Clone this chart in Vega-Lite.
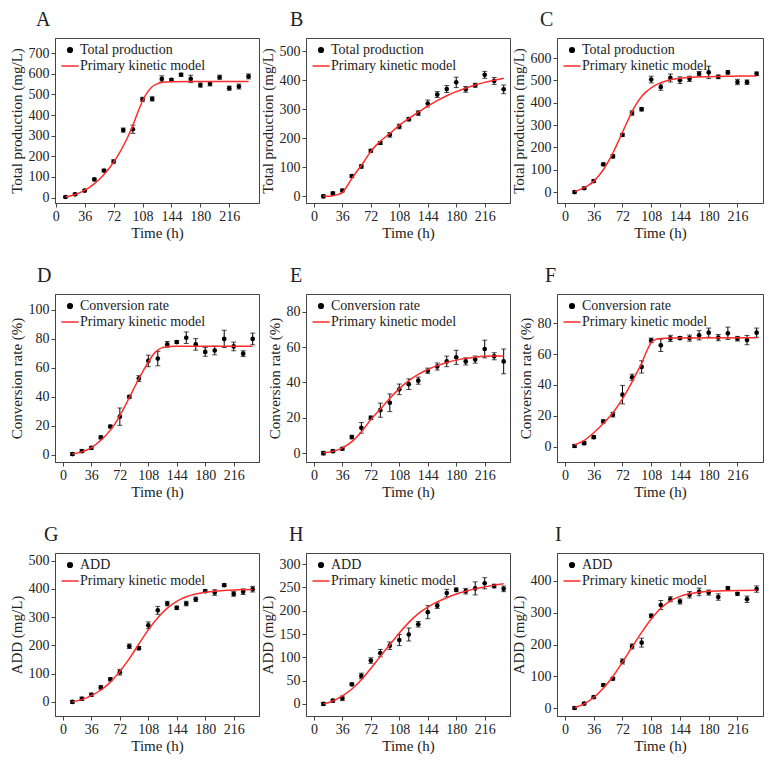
{
  "$schema": "https://vega.github.io/schema/vega-lite/v6.json",
  "background": "white",
  "padding": {"left": 8, "top": 9, "right": 5, "bottom": 5},
  "columns": 3,
  "bounds": "flush",
  "spacing": {"row": 91, "column": 47},
  "resolve": {"scale": {"color": "independent"}, "legend": {"color": "independent"}},
  "config": {
    "font": "Liberation Serif",
    "view": {"stroke": "#444", "strokeWidth": 1},
    "mark": {"color": "black"},
    "axis": {"grid": false, "labelFont": "Liberation Serif", "labelFontSize": 14, "labelColor": "#222", "titleFont": "Liberation Serif", "titleFontSize": 15, "titleFontWeight": "normal", "titleColor": "#222", "domainColor": "#444", "tickColor": "#444", "tickSize": 4, "labelPadding": 2, "labelFlush": false, "labelOverlap": false},
    "axisX": {"titlePadding": 2, "labelFont": "Liberation Serif", "titleFont": "Liberation Serif", "titleFontWeight": "normal"},
    "axisY": {"titlePadding": 4, "labelFont": "Liberation Serif", "titleFont": "Liberation Serif", "titleFontWeight": "normal"},
    "title": {"font": "Liberation Serif", "fontSize": 20, "fontWeight": "normal", "anchor": "start", "frame": "group", "color": "#222", "offset": 8},
    "legend": {"orient": "none", "legendX": 8, "legendY": 5, "padding": 0, "symbolSize": 289, "labelOffset": 3, "rowPadding": 2, "labelFont": "Liberation Serif", "labelFontSize": 14, "labelColor": "#222", "labelLimit": 300}
  },
  "datasets": {
    "A_obs": [{"t":12,"v":3,"e":5},{"t":24,"v":16,"e":6},{"t":36,"v":34,"e":6},{"t":48,"v":88,"e":6},{"t":60,"v":131,"e":6},{"t":72,"v":175,"e":8},{"t":84,"v":327,"e":10},{"t":96,"v":331,"e":20},{"t":108,"v":476,"e":10},{"t":120,"v":478,"e":10},{"t":132,"v":575,"e":15},{"t":144,"v":570,"e":6},{"t":156,"v":595,"e":8},{"t":168,"v":575,"e":18},{"t":180,"v":545,"e":10},{"t":192,"v":551,"e":10},{"t":204,"v":583,"e":10},{"t":216,"v":530,"e":10},{"t":228,"v":538,"e":12},{"t":240,"v":587,"e":12}],
    "A_fit": [{"t":12,"v":3},{"t":18,"v":8},{"t":24,"v":15},{"t":30,"v":24},{"t":36,"v":36},{"t":42,"v":50},{"t":48,"v":68},{"t":54,"v":88},{"t":60,"v":112},{"t":66,"v":140},{"t":72,"v":172},{"t":78,"v":208},{"t":84,"v":250},{"t":90,"v":297},{"t":96,"v":350},{"t":102,"v":412},{"t":108,"v":468},{"t":114,"v":510},{"t":120,"v":537},{"t":126,"v":551},{"t":132,"v":558},{"t":138,"v":560},{"t":144,"v":561},{"t":168,"v":562},{"t":240,"v":562}],
    "B_obs": [{"t":12,"v":0,"e":5},{"t":24,"v":10,"e":5},{"t":36,"v":20,"e":5},{"t":48,"v":70,"e":5},{"t":60,"v":103,"e":6},{"t":72,"v":157,"e":5},{"t":84,"v":184,"e":5},{"t":96,"v":212,"e":8},{"t":108,"v":241,"e":8},{"t":120,"v":266,"e":6},{"t":132,"v":287,"e":8},{"t":144,"v":320,"e":12},{"t":156,"v":351,"e":10},{"t":168,"v":370,"e":12},{"t":180,"v":393,"e":18},{"t":192,"v":369,"e":10},{"t":204,"v":383,"e":7},{"t":216,"v":419,"e":12},{"t":228,"v":398,"e":12},{"t":240,"v":369,"e":15}],
    "B_fit": [{"t":12,"v":0},{"t":18,"v":0},{"t":24,"v":2},{"t":30,"v":6},{"t":36,"v":13},{"t":42,"v":35},{"t":48,"v":62},{"t":54,"v":85},{"t":60,"v":106},{"t":66,"v":131},{"t":72,"v":155},{"t":84,"v":190},{"t":96,"v":217},{"t":108,"v":245},{"t":120,"v":268},{"t":132,"v":290},{"t":144,"v":311},{"t":156,"v":330},{"t":168,"v":347},{"t":180,"v":361},{"t":192,"v":373},{"t":204,"v":384},{"t":216,"v":393},{"t":228,"v":400},{"t":240,"v":407}],
    "C_obs": [{"t":12,"v":0,"e":5},{"t":24,"v":17,"e":5},{"t":36,"v":49,"e":6},{"t":48,"v":124,"e":6},{"t":60,"v":160,"e":8},{"t":72,"v":256,"e":6},{"t":84,"v":354,"e":10},{"t":96,"v":371,"e":8},{"t":108,"v":504,"e":15},{"t":120,"v":470,"e":14},{"t":132,"v":511,"e":18},{"t":144,"v":501,"e":15},{"t":156,"v":507,"e":12},{"t":168,"v":530,"e":10},{"t":180,"v":536,"e":28},{"t":192,"v":516,"e":8},{"t":204,"v":536,"e":8},{"t":216,"v":493,"e":12},{"t":228,"v":492,"e":10},{"t":240,"v":530,"e":8}],
    "C_fit": [{"t":12,"v":3},{"t":18,"v":10},{"t":24,"v":20},{"t":30,"v":32},{"t":36,"v":48},{"t":42,"v":72},{"t":48,"v":100},{"t":54,"v":135},{"t":60,"v":175},{"t":66,"v":220},{"t":72,"v":268},{"t":78,"v":315},{"t":84,"v":360},{"t":90,"v":398},{"t":96,"v":428},{"t":102,"v":450},{"t":108,"v":467},{"t":114,"v":480},{"t":120,"v":490},{"t":132,"v":503},{"t":144,"v":510},{"t":156,"v":514},{"t":180,"v":517},{"t":210,"v":519},{"t":240,"v":520}],
    "D_obs": [{"t":12,"v":0.5,"e":1},{"t":24,"v":2.5,"e":1},{"t":36,"v":4.8,"e":1},{"t":48,"v":12,"e":1},{"t":60,"v":19.5,"e":1},{"t":72,"v":26.3,"e":6},{"t":84,"v":40,"e":1},{"t":96,"v":52.6,"e":2},{"t":108,"v":64.8,"e":4},{"t":120,"v":66.4,"e":5},{"t":132,"v":76.2,"e":2},{"t":144,"v":77.8,"e":1},{"t":156,"v":80.8,"e":4},{"t":168,"v":76.2,"e":4},{"t":180,"v":71,"e":3},{"t":192,"v":72,"e":3},{"t":204,"v":80,"e":6},{"t":216,"v":74.8,"e":3},{"t":228,"v":69.8,"e":2},{"t":240,"v":80,"e":4}],
    "D_fit": [{"t":12,"v":0.5},{"t":24,"v":2},{"t":36,"v":5},{"t":48,"v":10},{"t":60,"v":17},{"t":66,"v":21.5},{"t":72,"v":27},{"t":78,"v":33},{"t":84,"v":39.5},{"t":90,"v":46},{"t":96,"v":52.5},{"t":102,"v":58.5},{"t":108,"v":64},{"t":114,"v":69},{"t":120,"v":72.3},{"t":126,"v":74},{"t":132,"v":74.7},{"t":144,"v":75},{"t":240,"v":75}],
    "E_obs": [{"t":12,"v":0,"e":1},{"t":24,"v":1.1,"e":0.8},{"t":36,"v":2.5,"e":0.8},{"t":48,"v":9.1,"e":1},{"t":60,"v":14.3,"e":3},{"t":72,"v":20,"e":1},{"t":84,"v":24.3,"e":4},{"t":96,"v":28.5,"e":5},{"t":108,"v":36.1,"e":3},{"t":120,"v":39,"e":3},{"t":132,"v":41,"e":2},{"t":144,"v":46.6,"e":1.5},{"t":156,"v":49,"e":2},{"t":168,"v":51.9,"e":3},{"t":180,"v":54.2,"e":4},{"t":192,"v":51.9,"e":2},{"t":204,"v":52.9,"e":2},{"t":216,"v":58.9,"e":5},{"t":228,"v":54.8,"e":2},{"t":240,"v":51.9,"e":7}],
    "E_fit": [{"t":12,"v":0.2},{"t":24,"v":1},{"t":36,"v":3},{"t":48,"v":6.5},{"t":60,"v":12},{"t":72,"v":19},{"t":84,"v":25},{"t":96,"v":31},{"t":108,"v":36.5},{"t":120,"v":41},{"t":132,"v":44.5},{"t":144,"v":47.3},{"t":156,"v":49.5},{"t":168,"v":51.3},{"t":180,"v":52.6},{"t":192,"v":53.6},{"t":204,"v":54.3},{"t":216,"v":54.8},{"t":228,"v":55},{"t":240,"v":55}],
    "F_obs": [{"t":12,"v":0.4,"e":1},{"t":24,"v":2.2,"e":1},{"t":36,"v":6.1,"e":1},{"t":48,"v":16.3,"e":1},{"t":60,"v":20.7,"e":1.5},{"t":72,"v":33.7,"e":6},{"t":84,"v":45,"e":2},{"t":96,"v":51.7,"e":4},{"t":108,"v":68.9,"e":1.5},{"t":120,"v":65.7,"e":4},{"t":132,"v":70.2,"e":2},{"t":144,"v":70.4,"e":1},{"t":156,"v":70.4,"e":2},{"t":168,"v":72.2,"e":3},{"t":180,"v":73.9,"e":3},{"t":192,"v":70.7,"e":2},{"t":204,"v":73.5,"e":4},{"t":216,"v":70,"e":1.5},{"t":228,"v":69.1,"e":3},{"t":240,"v":73.9,"e":3}],
    "F_fit": [{"t":12,"v":1},{"t":24,"v":4},{"t":36,"v":9},{"t":48,"v":15},{"t":60,"v":22},{"t":72,"v":31},{"t":84,"v":42},{"t":90,"v":48},{"t":96,"v":54},{"t":102,"v":61.5},{"t":108,"v":67.5},{"t":114,"v":69.6},{"t":120,"v":70.2},{"t":132,"v":70.4},{"t":240,"v":70.6}],
    "G_obs": [{"t":12,"v":0,"e":5},{"t":24,"v":11,"e":6},{"t":36,"v":25,"e":6},{"t":48,"v":51,"e":6},{"t":60,"v":80,"e":6},{"t":72,"v":105,"e":10},{"t":84,"v":197,"e":8},{"t":96,"v":190,"e":6},{"t":108,"v":271,"e":12},{"t":120,"v":324,"e":14},{"t":132,"v":348,"e":8},{"t":144,"v":333,"e":6},{"t":156,"v":348,"e":8},{"t":168,"v":363,"e":8},{"t":180,"v":392,"e":5},{"t":192,"v":387,"e":10},{"t":204,"v":413,"e":5},{"t":216,"v":382,"e":8},{"t":228,"v":390,"e":10},{"t":240,"v":399,"e":10}],
    "G_fit": [{"t":12,"v":0},{"t":24,"v":8},{"t":36,"v":22},{"t":48,"v":42},{"t":60,"v":70},{"t":72,"v":108},{"t":84,"v":153},{"t":96,"v":205},{"t":108,"v":255},{"t":120,"v":298},{"t":132,"v":332},{"t":144,"v":356},{"t":156,"v":372},{"t":168,"v":382},{"t":180,"v":388},{"t":192,"v":392},{"t":204,"v":394},{"t":216,"v":396},{"t":228,"v":397},{"t":240,"v":398}],
    "H_obs": [{"t":12,"v":0,"e":3},{"t":24,"v":7,"e":3},{"t":36,"v":12,"e":5},{"t":48,"v":42,"e":3},{"t":60,"v":60,"e":6},{"t":72,"v":93,"e":6},{"t":84,"v":109,"e":8},{"t":96,"v":125,"e":8},{"t":108,"v":137,"e":12},{"t":120,"v":149,"e":14},{"t":132,"v":171,"e":6},{"t":144,"v":197,"e":14},{"t":156,"v":211,"e":6},{"t":168,"v":238,"e":8},{"t":180,"v":245,"e":4},{"t":192,"v":242,"e":6},{"t":204,"v":248,"e":14},{"t":216,"v":259,"e":12},{"t":228,"v":253,"e":4},{"t":240,"v":247,"e":6}],
    "H_fit": [{"t":12,"v":0},{"t":24,"v":6},{"t":36,"v":17},{"t":48,"v":32},{"t":60,"v":52},{"t":72,"v":76},{"t":84,"v":102},{"t":96,"v":127},{"t":108,"v":152},{"t":120,"v":175},{"t":132,"v":194},{"t":144,"v":208},{"t":156,"v":219},{"t":168,"v":228},{"t":180,"v":236},{"t":192,"v":242},{"t":204,"v":247},{"t":216,"v":251},{"t":228,"v":255},{"t":240,"v":258}],
    "I_obs": [{"t":12,"v":1,"e":4},{"t":24,"v":15,"e":4},{"t":36,"v":35,"e":4},{"t":48,"v":73,"e":4},{"t":60,"v":93,"e":4},{"t":72,"v":147,"e":8},{"t":84,"v":194,"e":8},{"t":96,"v":206,"e":14},{"t":108,"v":290,"e":6},{"t":120,"v":324,"e":14},{"t":132,"v":342,"e":8},{"t":144,"v":335,"e":8},{"t":156,"v":356,"e":10},{"t":168,"v":365,"e":12},{"t":180,"v":363,"e":8},{"t":192,"v":349,"e":10},{"t":204,"v":377,"e":4},{"t":216,"v":359,"e":4},{"t":228,"v":342,"e":10},{"t":240,"v":374,"e":10}],
    "I_fit": [{"t":12,"v":2},{"t":24,"v":14},{"t":36,"v":34},{"t":48,"v":63},{"t":60,"v":100},{"t":72,"v":145},{"t":84,"v":192},{"t":96,"v":238},{"t":108,"v":280},{"t":120,"v":314},{"t":132,"v":337},{"t":144,"v":351},{"t":156,"v":359},{"t":168,"v":364},{"t":180,"v":367},{"t":204,"v":369},{"t":240,"v":370}]
  },
  "concat": [
    {
      "width": 204, "height": 165,
      "title": {"text": "A", "dx": -19},
      "encoding": {
        "x": {"field": "t", "type": "quantitative", "scale": {"domain": [-1, 253], "nice": false, "zero": false}, "axis": {"title": "Time (h)", "values": [0,36,72,108,144,180,216]}},
        "y": {"field": "v", "type": "quantitative", "scale": {"domain": [-26, 773], "nice": false, "zero": false}, "axis": {"title": "Total production (mg/L)", "values": [0,100,200,300,400,500,600,700]}}
      },
      "layer": [
        {"data": {"name": "A_obs"}, "mark": {"type": "errorbar", "ticks": {"size": 5, "color": "black"}, "thickness": 1, "color": "black"}, "encoding": {"yError": {"field": "e"}}},
        {"data": {"name": "A_obs"}, "mark": {"type": "point", "filled": true, "size": 22, "opacity": 1}, "encoding": {"color": {"datum": "Total production", "type": "nominal", "scale": {"domain": ["Total production", "Primary kinetic model"], "range": ["black", "#ff2a2a"]}, "legend": {"title": null, "encode": {"symbols": {"update": {"shape": {"signal": "datum.value === 'Primary kinetic model' ? 'stroke' : 'circle'"}, "size": {"signal": "datum.value === 'Primary kinetic model' ? 289 : 22"}, "fill": {"signal": "datum.value === 'Primary kinetic model' ? 'transparent' : 'black'"}, "stroke": {"signal": "datum.value === 'Primary kinetic model' ? '#ff2a2a' : 'black'"}, "strokeWidth": {"value": 1.5}, "opacity": {"value": 1}}}}}}}},
        {"data": {"name": "A_fit"}, "mark": {"type": "line", "interpolate": "monotone", "strokeWidth": 1.5}, "encoding": {"color": {"datum": "Primary kinetic model", "type": "nominal", "legend": {"title": null, "encode": {"symbols": {"update": {"shape": {"signal": "datum.value === 'Primary kinetic model' ? 'stroke' : 'circle'"}, "size": {"signal": "datum.value === 'Primary kinetic model' ? 289 : 22"}, "fill": {"signal": "datum.value === 'Primary kinetic model' ? 'transparent' : 'black'"}, "stroke": {"signal": "datum.value === 'Primary kinetic model' ? '#ff2a2a' : 'black'"}, "strokeWidth": {"value": 1.5}, "opacity": {"value": 1}}}}}}}}
      ]
    },
    {
      "width": 204, "height": 165,
      "title": {"text": "B", "dx": -16},
      "encoding": {
        "x": {"field": "t", "type": "quantitative", "scale": {"domain": [-10, 248], "nice": false, "zero": false}, "axis": {"title": "Time (h)", "values": [0,36,72,108,144,180,216]}},
        "y": {"field": "v", "type": "quantitative", "scale": {"domain": [-23, 546], "nice": false, "zero": false}, "axis": {"title": "Total production (mg/L)", "values": [0,100,200,300,400,500]}}
      },
      "layer": [
        {"data": {"name": "B_obs"}, "mark": {"type": "errorbar", "ticks": {"size": 5, "color": "black"}, "thickness": 1, "color": "black"}, "encoding": {"yError": {"field": "e"}}},
        {"data": {"name": "B_obs"}, "mark": {"type": "point", "filled": true, "size": 22, "opacity": 1}, "encoding": {"color": {"datum": "Total production", "type": "nominal", "scale": {"domain": ["Total production", "Primary kinetic model"], "range": ["black", "#ff2a2a"]}, "legend": {"title": null, "encode": {"symbols": {"update": {"shape": {"signal": "datum.value === 'Primary kinetic model' ? 'stroke' : 'circle'"}, "size": {"signal": "datum.value === 'Primary kinetic model' ? 289 : 22"}, "fill": {"signal": "datum.value === 'Primary kinetic model' ? 'transparent' : 'black'"}, "stroke": {"signal": "datum.value === 'Primary kinetic model' ? '#ff2a2a' : 'black'"}, "strokeWidth": {"value": 1.5}, "opacity": {"value": 1}}}}}}}},
        {"data": {"name": "B_fit"}, "mark": {"type": "line", "interpolate": "monotone", "strokeWidth": 1.5}, "encoding": {"color": {"datum": "Primary kinetic model", "type": "nominal", "legend": {"title": null, "encode": {"symbols": {"update": {"shape": {"signal": "datum.value === 'Primary kinetic model' ? 'stroke' : 'circle'"}, "size": {"signal": "datum.value === 'Primary kinetic model' ? 289 : 22"}, "fill": {"signal": "datum.value === 'Primary kinetic model' ? 'transparent' : 'black'"}, "stroke": {"signal": "datum.value === 'Primary kinetic model' ? '#ff2a2a' : 'black'"}, "strokeWidth": {"value": 1.5}, "opacity": {"value": 1}}}}}}}}
      ]
    },
    {
      "width": 206, "height": 165,
      "title": {"text": "C", "dx": -17},
      "encoding": {
        "x": {"field": "t", "type": "quantitative", "scale": {"domain": [-10, 248], "nice": false, "zero": false}, "axis": {"title": "Time (h)", "values": [0,36,72,108,144,180,216]}},
        "y": {"field": "v", "type": "quantitative", "scale": {"domain": [-49, 690], "nice": false, "zero": false}, "axis": {"title": "Total production (mg/L)", "values": [0,100,200,300,400,500,600]}}
      },
      "layer": [
        {"data": {"name": "C_obs"}, "mark": {"type": "errorbar", "ticks": {"size": 5, "color": "black"}, "thickness": 1, "color": "black"}, "encoding": {"yError": {"field": "e"}}},
        {"data": {"name": "C_obs"}, "mark": {"type": "point", "filled": true, "size": 22, "opacity": 1}, "encoding": {"color": {"datum": "Total production", "type": "nominal", "scale": {"domain": ["Total production", "Primary kinetic model"], "range": ["black", "#ff2a2a"]}, "legend": {"title": null, "encode": {"symbols": {"update": {"shape": {"signal": "datum.value === 'Primary kinetic model' ? 'stroke' : 'circle'"}, "size": {"signal": "datum.value === 'Primary kinetic model' ? 289 : 22"}, "fill": {"signal": "datum.value === 'Primary kinetic model' ? 'transparent' : 'black'"}, "stroke": {"signal": "datum.value === 'Primary kinetic model' ? '#ff2a2a' : 'black'"}, "strokeWidth": {"value": 1.5}, "opacity": {"value": 1}}}}}}}},
        {"data": {"name": "C_fit"}, "mark": {"type": "line", "interpolate": "monotone", "strokeWidth": 1.5}, "encoding": {"color": {"datum": "Primary kinetic model", "type": "nominal", "legend": {"title": null, "encode": {"symbols": {"update": {"shape": {"signal": "datum.value === 'Primary kinetic model' ? 'stroke' : 'circle'"}, "size": {"signal": "datum.value === 'Primary kinetic model' ? 289 : 22"}, "fill": {"signal": "datum.value === 'Primary kinetic model' ? 'transparent' : 'black'"}, "stroke": {"signal": "datum.value === 'Primary kinetic model' ? '#ff2a2a' : 'black'"}, "strokeWidth": {"value": 1.5}, "opacity": {"value": 1}}}}}}}}
      ]
    },
    {
      "width": 204, "height": 168,
      "title": {"text": "D", "dx": -18},
      "encoding": {
        "x": {"field": "t", "type": "quantitative", "scale": {"domain": [-10, 248], "nice": false, "zero": false}, "axis": {"title": "Time (h)", "values": [0,36,72,108,144,180,216]}},
        "y": {"field": "v", "type": "quantitative", "scale": {"domain": [-5, 111], "nice": false, "zero": false}, "axis": {"title": "Conversion rate (%)", "values": [0,20,40,60,80,100]}}
      },
      "layer": [
        {"data": {"name": "D_obs"}, "mark": {"type": "errorbar", "ticks": {"size": 5, "color": "black"}, "thickness": 1, "color": "black"}, "encoding": {"yError": {"field": "e"}}},
        {"data": {"name": "D_obs"}, "mark": {"type": "point", "filled": true, "size": 22, "opacity": 1}, "encoding": {"color": {"datum": "Conversion rate", "type": "nominal", "scale": {"domain": ["Conversion rate", "Primary kinetic model"], "range": ["black", "#ff2a2a"]}, "legend": {"title": null, "encode": {"symbols": {"update": {"shape": {"signal": "datum.value === 'Primary kinetic model' ? 'stroke' : 'circle'"}, "size": {"signal": "datum.value === 'Primary kinetic model' ? 289 : 22"}, "fill": {"signal": "datum.value === 'Primary kinetic model' ? 'transparent' : 'black'"}, "stroke": {"signal": "datum.value === 'Primary kinetic model' ? '#ff2a2a' : 'black'"}, "strokeWidth": {"value": 1.5}, "opacity": {"value": 1}}}}}}}},
        {"data": {"name": "D_fit"}, "mark": {"type": "line", "interpolate": "monotone", "strokeWidth": 1.5}, "encoding": {"color": {"datum": "Primary kinetic model", "type": "nominal", "legend": {"title": null, "encode": {"symbols": {"update": {"shape": {"signal": "datum.value === 'Primary kinetic model' ? 'stroke' : 'circle'"}, "size": {"signal": "datum.value === 'Primary kinetic model' ? 289 : 22"}, "fill": {"signal": "datum.value === 'Primary kinetic model' ? 'transparent' : 'black'"}, "stroke": {"signal": "datum.value === 'Primary kinetic model' ? '#ff2a2a' : 'black'"}, "strokeWidth": {"value": 1.5}, "opacity": {"value": 1}}}}}}}}
      ]
    },
    {
      "width": 204, "height": 168,
      "title": {"text": "E", "dx": -16},
      "encoding": {
        "x": {"field": "t", "type": "quantitative", "scale": {"domain": [-10, 248], "nice": false, "zero": false}, "axis": {"title": "Time (h)", "values": [0,36,72,108,144,180,216]}},
        "y": {"field": "v", "type": "quantitative", "scale": {"domain": [-5, 90], "nice": false, "zero": false}, "axis": {"title": "Conversion rate (%)", "values": [0,20,40,60,80]}}
      },
      "layer": [
        {"data": {"name": "E_obs"}, "mark": {"type": "errorbar", "ticks": {"size": 5, "color": "black"}, "thickness": 1, "color": "black"}, "encoding": {"yError": {"field": "e"}}},
        {"data": {"name": "E_obs"}, "mark": {"type": "point", "filled": true, "size": 22, "opacity": 1}, "encoding": {"color": {"datum": "Conversion rate", "type": "nominal", "scale": {"domain": ["Conversion rate", "Primary kinetic model"], "range": ["black", "#ff2a2a"]}, "legend": {"title": null, "encode": {"symbols": {"update": {"shape": {"signal": "datum.value === 'Primary kinetic model' ? 'stroke' : 'circle'"}, "size": {"signal": "datum.value === 'Primary kinetic model' ? 289 : 22"}, "fill": {"signal": "datum.value === 'Primary kinetic model' ? 'transparent' : 'black'"}, "stroke": {"signal": "datum.value === 'Primary kinetic model' ? '#ff2a2a' : 'black'"}, "strokeWidth": {"value": 1.5}, "opacity": {"value": 1}}}}}}}},
        {"data": {"name": "E_fit"}, "mark": {"type": "line", "interpolate": "monotone", "strokeWidth": 1.5}, "encoding": {"color": {"datum": "Primary kinetic model", "type": "nominal", "legend": {"title": null, "encode": {"symbols": {"update": {"shape": {"signal": "datum.value === 'Primary kinetic model' ? 'stroke' : 'circle'"}, "size": {"signal": "datum.value === 'Primary kinetic model' ? 289 : 22"}, "fill": {"signal": "datum.value === 'Primary kinetic model' ? 'transparent' : 'black'"}, "stroke": {"signal": "datum.value === 'Primary kinetic model' ? '#ff2a2a' : 'black'"}, "strokeWidth": {"value": 1.5}, "opacity": {"value": 1}}}}}}}}
      ]
    },
    {
      "width": 206, "height": 168,
      "title": {"text": "F", "dx": -12},
      "encoding": {
        "x": {"field": "t", "type": "quantitative", "scale": {"domain": [-10, 248], "nice": false, "zero": false}, "axis": {"title": "Time (h)", "values": [0,36,72,108,144,180,216]}},
        "y": {"field": "v", "type": "quantitative", "scale": {"domain": [-10, 99], "nice": false, "zero": false}, "axis": {"title": "Conversion rate (%)", "values": [0,20,40,60,80]}}
      },
      "layer": [
        {"data": {"name": "F_obs"}, "mark": {"type": "errorbar", "ticks": {"size": 5, "color": "black"}, "thickness": 1, "color": "black"}, "encoding": {"yError": {"field": "e"}}},
        {"data": {"name": "F_obs"}, "mark": {"type": "point", "filled": true, "size": 22, "opacity": 1}, "encoding": {"color": {"datum": "Conversion rate", "type": "nominal", "scale": {"domain": ["Conversion rate", "Primary kinetic model"], "range": ["black", "#ff2a2a"]}, "legend": {"title": null, "encode": {"symbols": {"update": {"shape": {"signal": "datum.value === 'Primary kinetic model' ? 'stroke' : 'circle'"}, "size": {"signal": "datum.value === 'Primary kinetic model' ? 289 : 22"}, "fill": {"signal": "datum.value === 'Primary kinetic model' ? 'transparent' : 'black'"}, "stroke": {"signal": "datum.value === 'Primary kinetic model' ? '#ff2a2a' : 'black'"}, "strokeWidth": {"value": 1.5}, "opacity": {"value": 1}}}}}}}},
        {"data": {"name": "F_fit"}, "mark": {"type": "line", "interpolate": "monotone", "strokeWidth": 1.5}, "encoding": {"color": {"datum": "Primary kinetic model", "type": "nominal", "legend": {"title": null, "encode": {"symbols": {"update": {"shape": {"signal": "datum.value === 'Primary kinetic model' ? 'stroke' : 'circle'"}, "size": {"signal": "datum.value === 'Primary kinetic model' ? 289 : 22"}, "fill": {"signal": "datum.value === 'Primary kinetic model' ? 'transparent' : 'black'"}, "stroke": {"signal": "datum.value === 'Primary kinetic model' ? '#ff2a2a' : 'black'"}, "strokeWidth": {"value": 1.5}, "opacity": {"value": 1}}}}}}}}
      ]
    },
    {
      "width": 204, "height": 163,
      "title": {"text": "G", "dx": -11},
      "encoding": {
        "x": {"field": "t", "type": "quantitative", "scale": {"domain": [-10, 248], "nice": false, "zero": false}, "axis": {"title": "Time (h)", "values": [0,36,72,108,144,180,216]}},
        "y": {"field": "v", "type": "quantitative", "scale": {"domain": [-50, 527], "nice": false, "zero": false}, "axis": {"title": "ADD (mg/L)", "values": [0,100,200,300,400,500]}}
      },
      "layer": [
        {"data": {"name": "G_obs"}, "mark": {"type": "errorbar", "ticks": {"size": 5, "color": "black"}, "thickness": 1, "color": "black"}, "encoding": {"yError": {"field": "e"}}},
        {"data": {"name": "G_obs"}, "mark": {"type": "point", "filled": true, "size": 22, "opacity": 1}, "encoding": {"color": {"datum": "ADD", "type": "nominal", "scale": {"domain": ["ADD", "Primary kinetic model"], "range": ["black", "#ff2a2a"]}, "legend": {"title": null, "encode": {"symbols": {"update": {"shape": {"signal": "datum.value === 'Primary kinetic model' ? 'stroke' : 'circle'"}, "size": {"signal": "datum.value === 'Primary kinetic model' ? 289 : 22"}, "fill": {"signal": "datum.value === 'Primary kinetic model' ? 'transparent' : 'black'"}, "stroke": {"signal": "datum.value === 'Primary kinetic model' ? '#ff2a2a' : 'black'"}, "strokeWidth": {"value": 1.5}, "opacity": {"value": 1}}}}}}}},
        {"data": {"name": "G_fit"}, "mark": {"type": "line", "interpolate": "monotone", "strokeWidth": 1.5}, "encoding": {"color": {"datum": "Primary kinetic model", "type": "nominal", "legend": {"title": null, "encode": {"symbols": {"update": {"shape": {"signal": "datum.value === 'Primary kinetic model' ? 'stroke' : 'circle'"}, "size": {"signal": "datum.value === 'Primary kinetic model' ? 289 : 22"}, "fill": {"signal": "datum.value === 'Primary kinetic model' ? 'transparent' : 'black'"}, "stroke": {"signal": "datum.value === 'Primary kinetic model' ? '#ff2a2a' : 'black'"}, "strokeWidth": {"value": 1.5}, "opacity": {"value": 1}}}}}}}}
      ]
    },
    {
      "width": 204, "height": 163,
      "title": {"text": "H", "dx": -17},
      "encoding": {
        "x": {"field": "t", "type": "quantitative", "scale": {"domain": [-10, 248], "nice": false, "zero": false}, "axis": {"title": "Time (h)", "values": [0,36,72,108,144,180,216]}},
        "y": {"field": "v", "type": "quantitative", "scale": {"domain": [-26, 324], "nice": false, "zero": false}, "axis": {"title": "ADD (mg/L)", "values": [0,50,100,150,200,250,300]}}
      },
      "layer": [
        {"data": {"name": "H_obs"}, "mark": {"type": "errorbar", "ticks": {"size": 5, "color": "black"}, "thickness": 1, "color": "black"}, "encoding": {"yError": {"field": "e"}}},
        {"data": {"name": "H_obs"}, "mark": {"type": "point", "filled": true, "size": 22, "opacity": 1}, "encoding": {"color": {"datum": "ADD", "type": "nominal", "scale": {"domain": ["ADD", "Primary kinetic model"], "range": ["black", "#ff2a2a"]}, "legend": {"title": null, "encode": {"symbols": {"update": {"shape": {"signal": "datum.value === 'Primary kinetic model' ? 'stroke' : 'circle'"}, "size": {"signal": "datum.value === 'Primary kinetic model' ? 289 : 22"}, "fill": {"signal": "datum.value === 'Primary kinetic model' ? 'transparent' : 'black'"}, "stroke": {"signal": "datum.value === 'Primary kinetic model' ? '#ff2a2a' : 'black'"}, "strokeWidth": {"value": 1.5}, "opacity": {"value": 1}}}}}}}},
        {"data": {"name": "H_fit"}, "mark": {"type": "line", "interpolate": "monotone", "strokeWidth": 1.5}, "encoding": {"color": {"datum": "Primary kinetic model", "type": "nominal", "legend": {"title": null, "encode": {"symbols": {"update": {"shape": {"signal": "datum.value === 'Primary kinetic model' ? 'stroke' : 'circle'"}, "size": {"signal": "datum.value === 'Primary kinetic model' ? 289 : 22"}, "fill": {"signal": "datum.value === 'Primary kinetic model' ? 'transparent' : 'black'"}, "stroke": {"signal": "datum.value === 'Primary kinetic model' ? '#ff2a2a' : 'black'"}, "strokeWidth": {"value": 1.5}, "opacity": {"value": 1}}}}}}}}
      ]
    },
    {
      "width": 206, "height": 163,
      "title": {"text": "I", "dx": -2},
      "encoding": {
        "x": {"field": "t", "type": "quantitative", "scale": {"domain": [-10, 248], "nice": false, "zero": false}, "axis": {"title": "Time (h)", "values": [0,36,72,108,144,180,216]}},
        "y": {"field": "v", "type": "quantitative", "scale": {"domain": [-24, 487], "nice": false, "zero": false}, "axis": {"title": "ADD (mg/L)", "values": [0,100,200,300,400]}}
      },
      "layer": [
        {"data": {"name": "I_obs"}, "mark": {"type": "errorbar", "ticks": {"size": 5, "color": "black"}, "thickness": 1, "color": "black"}, "encoding": {"yError": {"field": "e"}}},
        {"data": {"name": "I_obs"}, "mark": {"type": "point", "filled": true, "size": 22, "opacity": 1}, "encoding": {"color": {"datum": "ADD", "type": "nominal", "scale": {"domain": ["ADD", "Primary kinetic model"], "range": ["black", "#ff2a2a"]}, "legend": {"title": null, "encode": {"symbols": {"update": {"shape": {"signal": "datum.value === 'Primary kinetic model' ? 'stroke' : 'circle'"}, "size": {"signal": "datum.value === 'Primary kinetic model' ? 289 : 22"}, "fill": {"signal": "datum.value === 'Primary kinetic model' ? 'transparent' : 'black'"}, "stroke": {"signal": "datum.value === 'Primary kinetic model' ? '#ff2a2a' : 'black'"}, "strokeWidth": {"value": 1.5}, "opacity": {"value": 1}}}}}}}},
        {"data": {"name": "I_fit"}, "mark": {"type": "line", "interpolate": "monotone", "strokeWidth": 1.5}, "encoding": {"color": {"datum": "Primary kinetic model", "type": "nominal", "legend": {"title": null, "encode": {"symbols": {"update": {"shape": {"signal": "datum.value === 'Primary kinetic model' ? 'stroke' : 'circle'"}, "size": {"signal": "datum.value === 'Primary kinetic model' ? 289 : 22"}, "fill": {"signal": "datum.value === 'Primary kinetic model' ? 'transparent' : 'black'"}, "stroke": {"signal": "datum.value === 'Primary kinetic model' ? '#ff2a2a' : 'black'"}, "strokeWidth": {"value": 1.5}, "opacity": {"value": 1}}}}}}}}
      ]
    }
  ]
}
